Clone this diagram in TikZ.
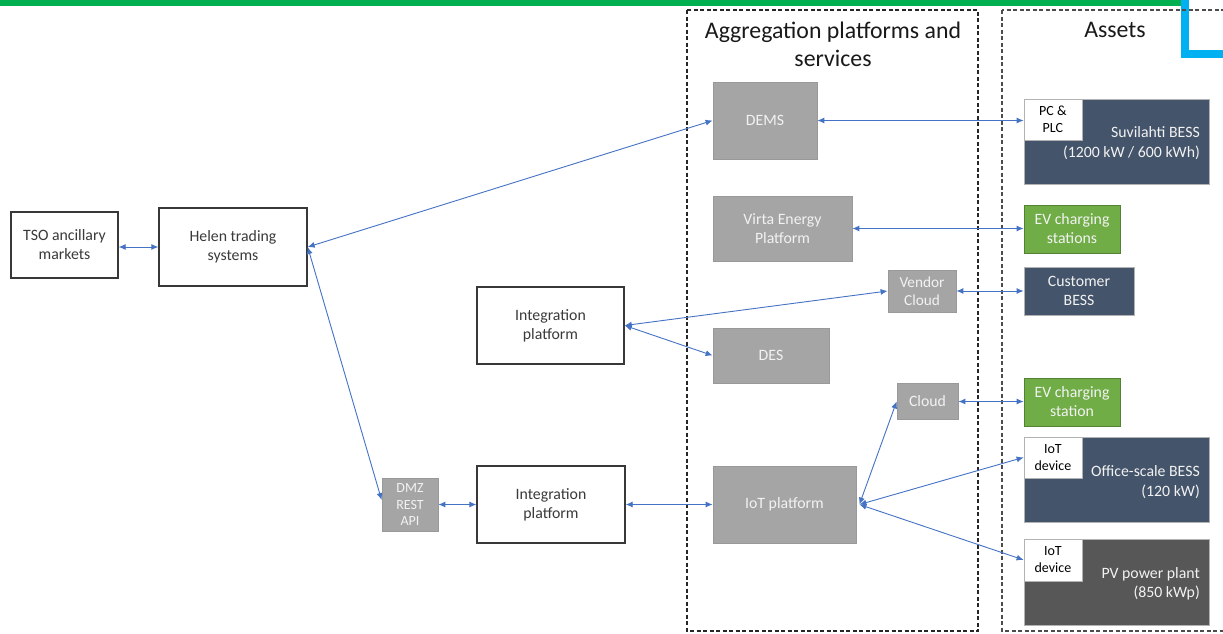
\documentclass[tikz,border=0pt]{standalone}
\usepackage{fontspec}
\setmainfont{Carlito}
\usetikzlibrary{arrows.meta}
\definecolor{hgreen}{HTML}{00B050}
\definecolor{hblue}{HTML}{00B0F0}
\definecolor{linkblue}{HTML}{4472C4}
\definecolor{boxgray}{HTML}{A5A5A5}
\definecolor{navy}{HTML}{44546A}
\definecolor{evgreen}{HTML}{70AD47}
\definecolor{pvgray}{HTML}{575757}
\definecolor{txtdark}{HTML}{3A3A3A}
\definecolor{offwhite}{HTML}{F2F2F2}
\tikzset{
  base/.style={inner sep=0pt, align=center, font=\fontsize{15.8}{19}\selectfont},
  wh/.style 2 args={minimum width=#1, minimum height=#2},
  whitebox/.style={base, draw=black!78, line width=1.4pt, fill=white, text=txtdark},
  graybox/.style={base, draw=black!40, line width=0.8pt, fill=boxgray, text=offwhite},
  navybox/.style={base, draw=black!30, line width=0.8pt, fill=navy, text=offwhite},
  greenbox/.style={base, draw=black!25!evgreen, line width=0.8pt, fill=evgreen, text=offwhite},
  pvbox/.style={base, draw=black!30, line width=0.8pt, fill=pvgray, text=offwhite},
  inset/.style={base, font=\fontsize{14}{17}\selectfont, draw=black!30, line width=0.6pt, fill=white, text=black, wh={58}{41}},
  assetlabel/.style={inner sep=0pt, align=right, anchor=east, text=offwhite, font=\fontsize{15.8}{19.5}\selectfont},
  region/.style={draw=black!85, line width=1.6pt, dash pattern=on 4pt off 2.5pt},
  title/.style={inner sep=0pt, align=center, text=black!90, font=\fontsize{23.8}{28}\selectfont},
  link/.style={draw=linkblue, line width=0.9pt, {Latex[length=7pt,width=6pt]}-{Latex[length=7pt,width=6pt]}},
}
\begin{document}
\begin{tikzpicture}[x=1pt, y=-1pt]
\clip (0,0) rectangle (1223,633);
\useasboundingbox (0,0) rectangle (1223,633);
\fill[white] (0,0) rectangle (1223,633);
% top decoration
\fill[hgreen] (0,0) rectangle (1181,6);
\draw[hblue, line width=8pt, line join=miter] (1185,-5) -- (1185,54) -- (1230,54);
% regions
\draw[region] (687,10) rectangle (978,631);
\draw[region, draw=black!70] (1002,10) rectangle (1240,631);
\node[title] (ttlagg) at (833,44) {Aggregation platforms and\\services};
\node[title] (ttlass) at (1115,30) {Assets};
% left side
\node[whitebox, wh={107}{66}] (tso) at (64.5,245) {TSO ancillary\\markets};
\node[whitebox, wh={148}{78}] (helen) at (233,247) {Helen trading\\systems};
\node[whitebox, wh={147}{77}] (intup) at (550.5,325.5) {Integration\\platform};
\node[whitebox, wh={148}{77}] (intlo) at (551,504.5) {Integration\\platform};
\node[graybox, wh={56}{53}, font=\fontsize{14}{16.5}\selectfont] (dmz) at (410,504.5) {DMZ\\REST\\API};
% aggregation platforms
\node[graybox, wh={104}{77}] (dems) at (765,120.5) {DEMS};
\node[graybox, wh={139}{65}] (virta) at (782.5,228.5) {Virta Energy\\Platform};
\node[graybox, wh={68}{42}, font=\fontsize{15.3}{17.5}\selectfont] (vendor) at (922,291) {Vendor\\Cloud};
\node[graybox, wh={116}{55}] (des) at (771,355.5) {DES};
\node[graybox, wh={61}{36}] (cloud) at (927.5,401.5) {Cloud};
\node[graybox, wh={143}{77}] (iot) at (784.5,504.5) {IoT platform};
% assets
\node[navybox, wh={185}{85}] (suv) at (1116.5,141.5) {};
\node[inset, anchor=north west] (pcplc) at (suv.north west) {PC \&\\PLC};
\node[assetlabel] (suvlbl) at (1200,143) {Suvilahti BESS\\(1200 kW / 600 kWh)};
\node[greenbox, wh={96}{48}] (evs) at (1072,229) {EV charging\\stations};
\node[navybox, wh={110}{48}] (cust) at (1079,291) {Customer\\BESS};
\node[greenbox, wh={96}{48}] (ev1) at (1072,402) {EV charging\\station};
\node[navybox, wh={185}{85}] (off) at (1116.5,479.5) {};
\node[inset, anchor=north west] (iotd1) at (off.north west) {IoT\\device};
\node[assetlabel] (offlbl) at (1200,482) {Office-scale BESS\\(120 kW)};
\node[pvbox, wh={185}{86}] (pv) at (1116.5,582) {};
\node[inset, anchor=north west, wh={58}{42}] (iotd2) at (pv.north west) {IoT\\device};
\node[assetlabel] (pvlbl) at (1200,584) {PV power plant\\(850 kWp)};
% connectors
\coordinate (hub) at ([xshift=3pt]iot.east);
\draw[link] (helen.west -| tso.east) -- (helen.west);
\draw[link] (helen.east) -- (dems.west);
\draw[link] (helen.east) -- ([yshift=4.5pt]dmz.west);
\draw[link] (dmz.east) -- (intlo.west);
\draw[link] (intlo.east) -- (iot.west);
\draw[link] (intup.east) -- (vendor.west);
\draw[link] (intup.east) -- (des.west);
\draw[link] (dems.east) -- (dems.east -| pcplc.west);
\draw[link] (virta.east) -- (virta.east -| evs.west);
\draw[link] (vendor.east) -- (cust.west);
\draw[link] (cloud.east) -- (cloud.east -| ev1.west);
\draw[link] (hub) -- (cloud.west);
\draw[link] (hub) -- (iotd1.west);
\draw[link] (hub) -- (iotd2.west);
\end{tikzpicture}
\end{document}
